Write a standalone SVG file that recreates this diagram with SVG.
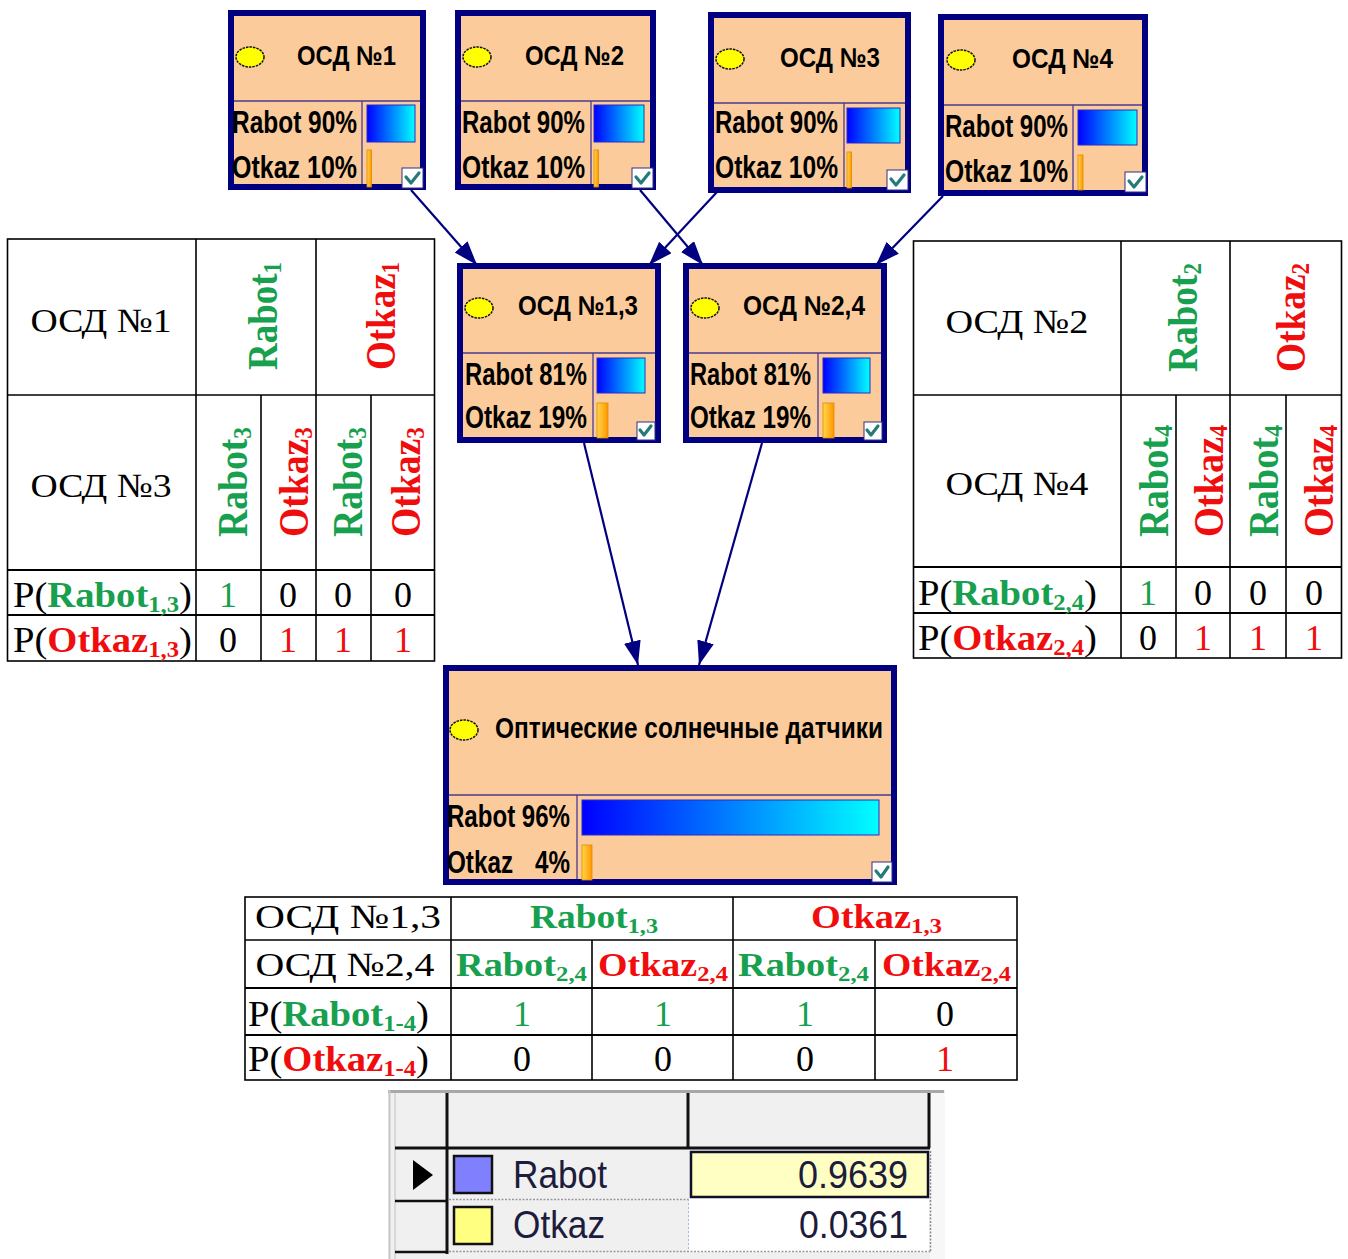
<svg xmlns="http://www.w3.org/2000/svg" width="1348" height="1259" viewBox="0 0 1348 1259">
  <style>
    .frame { fill: #fccb9b; stroke: #000080; stroke-width: 6; }
    .div { stroke: #4a3a90; stroke-width: 1.3; fill: none; }
    .nt { font-family: "Liberation Sans", Arial, sans-serif; font-weight: bold; fill: #000; }
    .bar { fill: url(#blueBar); stroke: #2a2ac8; stroke-width: 1; }
    .obar { fill: url(#orangeBar); stroke: #e08a00; stroke-width: 0.8; }
    .dot { fill: #ffff00; stroke: #111; stroke-width: 1.5; stroke-dasharray: 2.5 1; }
    .chk { fill: #fff; stroke: #303080; stroke-width: 1; }
    .tick { fill: none; stroke: #257a7a; stroke-width: 3.2; stroke-linecap: round; stroke-linejoin: round; }
    .edge { stroke: #000080; stroke-width: 2.2; fill: none; marker-end: url(#arrow); }
    .tl { stroke: #000; stroke-width: 1.6; fill: none; }
    .tl2 { stroke: #000; stroke-width: 2.2; fill: none; }
    .tb { font-family: "Liberation Serif", "Times New Roman", serif; fill: #000; }
    .b { font-weight: bold; }
    .g { fill: #17a04e; }
    .r { fill: #f00d0d; }
    .gt { font-family: "Liberation Sans", Arial, sans-serif; fill: #1c1c3c; }
  </style>
  <defs>
    <linearGradient id="blueBar" x1="0" y1="0" x2="1" y2="0">
      <stop offset="0" stop-color="#0000ff"/>
      <stop offset="1" stop-color="#00ffff"/>
    </linearGradient>
    <linearGradient id="orangeBar" x1="0" y1="0" x2="1" y2="0">
      <stop offset="0" stop-color="#ffd84a"/>
      <stop offset="1" stop-color="#ff9500"/>
    </linearGradient>
    <marker id="arrow" markerUnits="userSpaceOnUse" markerWidth="26" markerHeight="18" refX="24" refY="8.5" orient="auto">
      <path d="M0,0 L24,8.5 L0,17 Z" fill="#000080"/>
    </marker>
  </defs>

  <rect width="1348" height="1259" fill="#fff"/>

  <!-- connectors -->
  <g id="connectors">
    <line class="edge" x1="411" y1="190" x2="477" y2="265"/>
    <line class="edge" x1="640" y1="190" x2="703" y2="265"/>
    <line class="edge" x1="717" y1="192" x2="649" y2="265"/>
    <line class="edge" x1="943" y1="196" x2="876" y2="265"/>
    <line class="edge" x1="584" y1="443" x2="638" y2="665"/>
    <line class="edge" x1="762" y1="443" x2="699" y2="665"/>
  </g>

  <!-- sensor 1 -->
  <g id="osd1" transform="translate(228,10)">
    <rect class="frame" x="3" y="3" width="192" height="174"/>
    <line class="div" x1="6" y1="91" x2="192" y2="91"/>
    <line class="div" x1="134" y1="91" x2="134" y2="174"/>
    <ellipse class="dot" cx="22" cy="47" rx="14" ry="10"/>
    <text class="nt" x="69" y="55" font-size="27" textLength="99" lengthAdjust="spacingAndGlyphs">ОСД №1</text>
    <text class="nt" x="4" y="123" font-size="31" textLength="125" lengthAdjust="spacingAndGlyphs">Rabot 90%</text>
    <text class="nt" x="4" y="168" font-size="31" textLength="125" lengthAdjust="spacingAndGlyphs">Otkaz 10%</text>
    <rect class="bar" x="139" y="95" width="48" height="37"/>
    <rect class="obar" x="139" y="140" width="4.5" height="37"/>
    <rect class="chk" x="174" y="158" width="21" height="20"/>
    <path class="tick" d="M178,167 L183,173 L191,163"/>
  </g>

  <!-- sensor 2 -->
  <g id="osd2" transform="translate(455,10)">
    <rect class="frame" x="3" y="3" width="195" height="174"/>
    <line class="div" x1="6" y1="91" x2="195" y2="91"/>
    <line class="div" x1="136" y1="91" x2="136" y2="174"/>
    <ellipse class="dot" cx="22" cy="47" rx="14" ry="10"/>
    <text class="nt" x="70" y="55" font-size="27" textLength="99" lengthAdjust="spacingAndGlyphs">ОСД №2</text>
    <text class="nt" x="7" y="123" font-size="31" textLength="123" lengthAdjust="spacingAndGlyphs">Rabot 90%</text>
    <text class="nt" x="7" y="168" font-size="31" textLength="123" lengthAdjust="spacingAndGlyphs">Otkaz 10%</text>
    <rect class="bar" x="139" y="95" width="50" height="37"/>
    <rect class="obar" x="139" y="140" width="4.5" height="37"/>
    <rect class="chk" x="177" y="158" width="21" height="20"/>
    <path class="tick" d="M181,167 L186,173 L194,163"/>
  </g>

  <!-- sensor 3 -->
  <g id="osd3" transform="translate(708,12)">
    <rect class="frame" x="3" y="3" width="197" height="175"/>
    <line class="div" x1="6" y1="91" x2="197" y2="91"/>
    <line class="div" x1="136" y1="91" x2="136" y2="175"/>
    <ellipse class="dot" cx="22" cy="47" rx="14" ry="10"/>
    <text class="nt" x="72" y="55" font-size="27" textLength="100" lengthAdjust="spacingAndGlyphs">ОСД №3</text>
    <text class="nt" x="7" y="121" font-size="31" textLength="123" lengthAdjust="spacingAndGlyphs">Rabot 90%</text>
    <text class="nt" x="7" y="166" font-size="31" textLength="123" lengthAdjust="spacingAndGlyphs">Otkaz 10%</text>
    <rect class="bar" x="139" y="96" width="53" height="35"/>
    <rect class="obar" x="139" y="140" width="4.5" height="36"/>
    <rect class="chk" x="179" y="158" width="21" height="20"/>
    <path class="tick" d="M183,167 L188,173 L196,163"/>
  </g>

  <!-- sensor 4 -->
  <g id="osd4" transform="translate(938,14)">
    <rect class="frame" x="3" y="3" width="204" height="176"/>
    <line class="div" x1="6" y1="91" x2="204" y2="91"/>
    <line class="div" x1="135" y1="91" x2="135" y2="176"/>
    <ellipse class="dot" cx="23" cy="46" rx="14" ry="10"/>
    <text class="nt" x="74" y="54" font-size="27" textLength="101" lengthAdjust="spacingAndGlyphs">ОСД №4</text>
    <text class="nt" x="7" y="123" font-size="31" textLength="123" lengthAdjust="spacingAndGlyphs">Rabot 90%</text>
    <text class="nt" x="7" y="168" font-size="31" textLength="123" lengthAdjust="spacingAndGlyphs">Otkaz 10%</text>
    <rect class="bar" x="140" y="96" width="59" height="35"/>
    <rect class="obar" x="140" y="141" width="5" height="35"/>
    <rect class="chk" x="187" y="158" width="21" height="20"/>
    <path class="tick" d="M191,167 L196,173 L204,163"/>
  </g>

  <!-- combined sensors 1,3 -->
  <g id="osd13" transform="translate(457,263)">
    <rect class="frame" x="3" y="3" width="198" height="174"/>
    <line class="div" x1="6" y1="90" x2="198" y2="90"/>
    <line class="div" x1="136" y1="90" x2="136" y2="174"/>
    <ellipse class="dot" cx="22" cy="45" rx="14" ry="10"/>
    <text class="nt" x="61" y="52" font-size="27" textLength="120" lengthAdjust="spacingAndGlyphs">ОСД №1,3</text>
    <text class="nt" x="8" y="122" font-size="31" textLength="122" lengthAdjust="spacingAndGlyphs">Rabot 81%</text>
    <text class="nt" x="8" y="165" font-size="31" textLength="122" lengthAdjust="spacingAndGlyphs">Otkaz 19%</text>
    <rect class="bar" x="140" y="95" width="48" height="35"/>
    <rect class="obar" x="140" y="140" width="11" height="35"/>
    <rect class="chk" x="180" y="159" width="18" height="18"/>
    <path class="tick" d="M183,167 L187,172 L194,163"/>
  </g>

  <!-- combined sensors 2,4 -->
  <g id="osd24" transform="translate(683,263)">
    <rect class="frame" x="3" y="3" width="198" height="174"/>
    <line class="div" x1="6" y1="90" x2="198" y2="90"/>
    <line class="div" x1="135" y1="90" x2="135" y2="174"/>
    <ellipse class="dot" cx="22" cy="45" rx="14" ry="10"/>
    <text class="nt" x="60" y="52" font-size="27" textLength="122" lengthAdjust="spacingAndGlyphs">ОСД №2,4</text>
    <text class="nt" x="7" y="122" font-size="31" textLength="121" lengthAdjust="spacingAndGlyphs">Rabot 81%</text>
    <text class="nt" x="7" y="165" font-size="31" textLength="121" lengthAdjust="spacingAndGlyphs">Otkaz 19%</text>
    <rect class="bar" x="140" y="95" width="47" height="35"/>
    <rect class="obar" x="140" y="140" width="11" height="35"/>
    <rect class="chk" x="181" y="159" width="18" height="18"/>
    <path class="tick" d="M184,167 L188,172 L195,163"/>
  </g>

  <!-- result node -->
  <g id="sensors" transform="translate(443,665)">
    <rect class="frame" x="3" y="3" width="448" height="214"/>
    <line class="div" x1="6" y1="130" x2="448" y2="130"/>
    <line class="div" x1="134" y1="130" x2="134" y2="214"/>
    <ellipse class="dot" cx="21" cy="65" rx="14" ry="10"/>
    <text class="nt" x="52" y="73" font-size="29" textLength="388" lengthAdjust="spacingAndGlyphs">Оптические солнечные датчики</text>
    <text class="nt" x="4" y="162" font-size="31" textLength="123" lengthAdjust="spacingAndGlyphs">Rabot 96%</text>
    <text class="nt" x="4" y="208" font-size="31" textLength="66" lengthAdjust="spacingAndGlyphs">Otkaz</text>
    <text class="nt" x="127" y="208" font-size="31" text-anchor="end" textLength="35" lengthAdjust="spacingAndGlyphs">4%</text>
    <rect class="bar" x="139" y="135" width="297" height="35"/>
    <rect class="obar" x="139" y="180" width="10" height="35"/>
    <rect class="chk" x="429" y="197" width="20" height="20"/>
    <path class="tick" d="M433,206 L438,212 L445,202"/>
  </g>

  <!-- table for sensors 1 and 3 -->
  <g id="table13">
    <rect class="tl" x="7.5" y="239" width="427" height="422"/>
    <line class="tl" x1="7.5" y1="395" x2="434.5" y2="395"/>
    <line class="tl2" x1="7.5" y1="570" x2="434.5" y2="570"/>
    <line class="tl2" x1="7.5" y1="615" x2="434.5" y2="615"/>
    <line class="tl" x1="196" y1="239" x2="196" y2="661"/>
    <line class="tl" x1="316" y1="239" x2="316" y2="661"/>
    <line class="tl" x1="261" y1="395" x2="261" y2="661"/>
    <line class="tl" x1="371" y1="395" x2="371" y2="661"/>
    <text class="tb" x="101" y="332" font-size="34" text-anchor="middle" textLength="141" lengthAdjust="spacingAndGlyphs">ОСД №1</text>
    <text class="tb" x="101" y="497" font-size="34" text-anchor="middle" textLength="141" lengthAdjust="spacingAndGlyphs">ОСД №3</text>
    <text class="tb b g" transform="translate(277,370) rotate(-90)" font-size="42" textLength="108" lengthAdjust="spacingAndGlyphs">Rabot<tspan font-size="26" dy="4">1</tspan></text>
    <text class="tb b r" transform="translate(395,370) rotate(-90)" font-size="42" textLength="108" lengthAdjust="spacingAndGlyphs">Otkaz<tspan font-size="26" dy="4">1</tspan></text>
    <text class="tb b g" transform="translate(247,537) rotate(-90)" font-size="42" textLength="110" lengthAdjust="spacingAndGlyphs">Rabot<tspan font-size="26" dy="4">3</tspan></text>
    <text class="tb b r" transform="translate(308,537) rotate(-90)" font-size="42" textLength="110" lengthAdjust="spacingAndGlyphs">Otkaz<tspan font-size="26" dy="4">3</tspan></text>
    <text class="tb b g" transform="translate(362,537) rotate(-90)" font-size="42" textLength="110" lengthAdjust="spacingAndGlyphs">Rabot<tspan font-size="26" dy="4">3</tspan></text>
    <text class="tb b r" transform="translate(420,537) rotate(-90)" font-size="42" textLength="110" lengthAdjust="spacingAndGlyphs">Otkaz<tspan font-size="26" dy="4">3</tspan></text>
    <text class="tb" x="13" y="607" font-size="36" textLength="179" lengthAdjust="spacingAndGlyphs">P(<tspan class="b g">Rabot</tspan><tspan class="b g" font-size="23" dy="5">1,3</tspan><tspan dy="-5">)</tspan></text>
    <text class="tb" x="13" y="652" font-size="36" textLength="179" lengthAdjust="spacingAndGlyphs">P(<tspan class="b r">Otkaz</tspan><tspan class="b r" font-size="23" dy="5">1,3</tspan><tspan dy="-5">)</tspan></text>
    <g font-size="36" text-anchor="middle">
      <text class="tb g" x="228" y="607">1</text>
      <text class="tb" x="288" y="607">0</text>
      <text class="tb" x="343" y="607">0</text>
      <text class="tb" x="403" y="607">0</text>
      <text class="tb" x="228" y="652">0</text>
      <text class="tb r" x="288" y="652">1</text>
      <text class="tb r" x="343" y="652">1</text>
      <text class="tb r" x="403" y="652">1</text>
    </g>
  </g>

  <!-- table for sensors 2 and 4 -->
  <g id="table24">
    <rect class="tl" x="913.5" y="241" width="428" height="417"/>
    <line class="tl" x1="913.5" y1="395" x2="1341.5" y2="395"/>
    <line class="tl2" x1="913.5" y1="567" x2="1341.5" y2="567"/>
    <line class="tl2" x1="913.5" y1="613" x2="1341.5" y2="613"/>
    <line class="tl" x1="1121" y1="241" x2="1121" y2="658"/>
    <line class="tl" x1="1230" y1="241" x2="1230" y2="658"/>
    <line class="tl" x1="1176" y1="395" x2="1176" y2="658"/>
    <line class="tl" x1="1286" y1="395" x2="1286" y2="658"/>
    <text class="tb" x="1017" y="333" font-size="34" text-anchor="middle" textLength="143" lengthAdjust="spacingAndGlyphs">ОСД №2</text>
    <text class="tb" x="1017" y="495" font-size="34" text-anchor="middle" textLength="143" lengthAdjust="spacingAndGlyphs">ОСД №4</text>
    <text class="tb b g" transform="translate(1197,372) rotate(-90)" font-size="42" textLength="109" lengthAdjust="spacingAndGlyphs">Rabot<tspan font-size="26" dy="4">2</tspan></text>
    <text class="tb b r" transform="translate(1305,372) rotate(-90)" font-size="42" textLength="109" lengthAdjust="spacingAndGlyphs">Otkaz<tspan font-size="26" dy="4">2</tspan></text>
    <text class="tb b g" transform="translate(1168,537) rotate(-90)" font-size="42" textLength="112" lengthAdjust="spacingAndGlyphs">Rabot<tspan font-size="26" dy="4">4</tspan></text>
    <text class="tb b r" transform="translate(1223,537) rotate(-90)" font-size="42" textLength="112" lengthAdjust="spacingAndGlyphs">Otkaz<tspan font-size="26" dy="4">4</tspan></text>
    <text class="tb b g" transform="translate(1278,537) rotate(-90)" font-size="42" textLength="112" lengthAdjust="spacingAndGlyphs">Rabot<tspan font-size="26" dy="4">4</tspan></text>
    <text class="tb b r" transform="translate(1333,537) rotate(-90)" font-size="42" textLength="112" lengthAdjust="spacingAndGlyphs">Otkaz<tspan font-size="26" dy="4">4</tspan></text>
    <text class="tb" x="918" y="605" font-size="36" textLength="179" lengthAdjust="spacingAndGlyphs">P(<tspan class="b g">Rabot</tspan><tspan class="b g" font-size="23" dy="5">2,4</tspan><tspan dy="-5">)</tspan></text>
    <text class="tb" x="918" y="650" font-size="36" textLength="179" lengthAdjust="spacingAndGlyphs">P(<tspan class="b r">Otkaz</tspan><tspan class="b r" font-size="23" dy="5">2,4</tspan><tspan dy="-5">)</tspan></text>
    <g font-size="36" text-anchor="middle">
      <text class="tb g" x="1148" y="605">1</text>
      <text class="tb" x="1203" y="605">0</text>
      <text class="tb" x="1258" y="605">0</text>
      <text class="tb" x="1314" y="605">0</text>
      <text class="tb" x="1148" y="650">0</text>
      <text class="tb r" x="1203" y="650">1</text>
      <text class="tb r" x="1258" y="650">1</text>
      <text class="tb r" x="1314" y="650">1</text>
    </g>
  </g>

  <!-- table for combined result -->
  <g id="tableAll">
    <rect class="tl" x="245" y="897" width="772" height="183"/>
    <line class="tl" x1="245" y1="940" x2="1017" y2="940"/>
    <line class="tl2" x1="245" y1="988" x2="1017" y2="988"/>
    <line class="tl2" x1="245" y1="1035" x2="1017" y2="1035"/>
    <line class="tl" x1="451" y1="897" x2="451" y2="1080"/>
    <line class="tl" x1="733" y1="897" x2="733" y2="1080"/>
    <line class="tl" x1="592" y1="940" x2="592" y2="1080"/>
    <line class="tl" x1="875" y1="940" x2="875" y2="1080"/>
    <text class="tb" x="348" y="928" font-size="34" text-anchor="middle" textLength="186" lengthAdjust="spacingAndGlyphs">ОСД №1,3</text>
    <text class="tb" x="345" y="976" font-size="34" text-anchor="middle" textLength="179" lengthAdjust="spacingAndGlyphs">ОСД №2,4</text>
    <text class="tb b g" x="530" y="928" font-size="34" textLength="128" lengthAdjust="spacingAndGlyphs">Rabot<tspan font-size="22" dy="5">1,3</tspan></text>
    <text class="tb b r" x="811" y="928" font-size="34" textLength="131" lengthAdjust="spacingAndGlyphs">Otkaz<tspan font-size="22" dy="5">1,3</tspan></text>
    <text class="tb b g" x="456" y="976" font-size="34" textLength="131" lengthAdjust="spacingAndGlyphs">Rabot<tspan font-size="22" dy="5">2,4</tspan></text>
    <text class="tb b r" x="598" y="976" font-size="34" textLength="130" lengthAdjust="spacingAndGlyphs">Otkaz<tspan font-size="22" dy="5">2,4</tspan></text>
    <text class="tb b g" x="738" y="976" font-size="34" textLength="131" lengthAdjust="spacingAndGlyphs">Rabot<tspan font-size="22" dy="5">2,4</tspan></text>
    <text class="tb b r" x="882" y="976" font-size="34" textLength="129" lengthAdjust="spacingAndGlyphs">Otkaz<tspan font-size="22" dy="5">2,4</tspan></text>
    <text class="tb" x="248" y="1026" font-size="36" textLength="181" lengthAdjust="spacingAndGlyphs">P(<tspan class="b g">Rabot</tspan><tspan class="b g" font-size="23" dy="5">1-4</tspan><tspan dy="-5">)</tspan></text>
    <text class="tb" x="248" y="1071" font-size="36" textLength="181" lengthAdjust="spacingAndGlyphs">P(<tspan class="b r">Otkaz</tspan><tspan class="b r" font-size="23" dy="5">1-4</tspan><tspan dy="-5">)</tspan></text>
    <g font-size="36" text-anchor="middle">
      <text class="tb g" x="522" y="1026">1</text>
      <text class="tb g" x="663" y="1026">1</text>
      <text class="tb g" x="805" y="1026">1</text>
      <text class="tb" x="945" y="1026">0</text>
      <text class="tb" x="522" y="1071">0</text>
      <text class="tb" x="663" y="1071">0</text>
      <text class="tb" x="805" y="1071">0</text>
      <text class="tb r" x="945" y="1071">1</text>
    </g>
  </g>

  <!-- probability grid -->
  <g id="grid">
    <rect x="388" y="1090" width="557" height="169" fill="#f0f0f0"/>
    <rect x="930" y="1093" width="15" height="166" fill="#f7f7f7"/>
    <line x1="388" y1="1091.5" x2="944" y2="1091.5" stroke="#a8a8a8" stroke-width="3"/>
    <line x1="389.5" y1="1090" x2="389.5" y2="1259" stroke="#c8c8c8" stroke-width="2"/>
    <line x1="395" y1="1093" x2="395" y2="1259" stroke="#d0d0d0" stroke-width="1.5"/>
    <rect x="689" y="1198" width="240" height="54" fill="#ffffff"/>
    <!-- header and row separators -->
    <line x1="395" y1="1148" x2="930" y2="1148" stroke="#111" stroke-width="3"/>
    <line x1="447" y1="1093" x2="447" y2="1254" stroke="#111" stroke-width="3"/>
    <line x1="688" y1="1093" x2="688" y2="1148" stroke="#111" stroke-width="3"/>
    <line x1="929" y1="1093" x2="929" y2="1148" stroke="#111" stroke-width="3"/>
    <line x1="395" y1="1201" x2="447" y2="1201" stroke="#111" stroke-width="2.5"/>
    <line x1="395" y1="1252" x2="447" y2="1252" stroke="#111" stroke-width="2.5"/>
    <line x1="449" y1="1199.5" x2="690" y2="1199.5" stroke="#9a9a9a" stroke-width="1.5" stroke-dasharray="2 1.5"/>
    <line x1="449" y1="1251.5" x2="931" y2="1251.5" stroke="#9a9a9a" stroke-width="1.5" stroke-dasharray="2 1.5"/>
    <line x1="688.5" y1="1199" x2="688.5" y2="1251" stroke="#a8b8d8" stroke-width="1" stroke-dasharray="2 2"/>
    <line x1="930.5" y1="1151" x2="930.5" y2="1251" stroke="#8a8a8a" stroke-width="1.5" stroke-dasharray="2 1.5"/>
    <!-- selected value cell -->
    <rect x="691" y="1152" width="237" height="45" fill="#ffffc4" stroke="#10102a" stroke-width="2.5"/>
    <!-- row marker -->
    <path d="M413,1160 L433,1175 L413,1190 Z" fill="#000"/>
    <!-- colour swatches -->
    <rect x="454" y="1156" width="38" height="37" fill="#8080ff" stroke="#111" stroke-width="2.5"/>
    <rect x="454" y="1207" width="38" height="37" fill="#ffff80" stroke="#111" stroke-width="2.5"/>
    <text class="gt" x="513" y="1188" font-size="38" textLength="94" lengthAdjust="spacingAndGlyphs">Rabot</text>
    <text class="gt" x="513" y="1238" font-size="38" textLength="92" lengthAdjust="spacingAndGlyphs">Otkaz</text>
    <text class="gt" x="908" y="1188" font-size="38" text-anchor="end" textLength="110" lengthAdjust="spacingAndGlyphs">0.9639</text>
    <text class="gt" x="908" y="1238" font-size="38" text-anchor="end" textLength="109" lengthAdjust="spacingAndGlyphs">0.0361</text>
  </g>
</svg>
